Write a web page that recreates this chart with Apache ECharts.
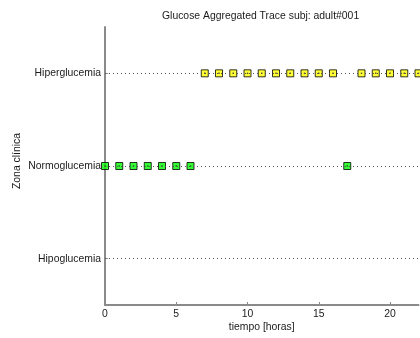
<!DOCTYPE html>
<html>
<head>
<meta charset="utf-8">
<script src="https://cdn.jsdelivr.net/npm/echarts@6/dist/echarts.min.js"></script>
<style>
  html, body { margin: 0; padding: 0; background: #fff; }
  #chart { width: 420px; height: 338px; }
</style>
</head>
<body>
<div id="chart"></div>
<script>
// Clinical zones (y categories, bottom to top)
const zonas = ['Hipoglucemia', 'Normoglucemia', 'Hiperglucemia'];
// Hourly samples
const horas = [0, 1, 2, 3, 4, 5, 6, 7, 8, 9, 10, 11, 12, 13, 14, 15, 16, 17, 18, 19, 20, 21, 22];
// Zone index (1 = hipo, 2 = normo, 3 = hiper) for each hour
const zonaPorHora = [2, 2, 2, 2, 2, 2, 2, 3, 3, 3, 3, 3, 3, 3, 3, 3, 3, 2, 3, 3, 3, 3, 3];
// Tick values
const xTicks = [0, 5, 10, 15, 20];
const yTicks = [1, 2, 3];
const coloresZona = { 1: '#ff0000', 2: '#00ff00', 3: '#ffff00' };

const puntos = horas.map((h, i) => [h, zonaPorHora[i]]);
const textColor = '#1a1a1a';
const axisColor = '#8a8a8a';
const font = 'Liberation Sans, Arial, Helvetica, sans-serif';
const fs = 10.4;

const chart = echarts.init(document.getElementById('chart'), null, { renderer: 'canvas' });
chart.setOption({
  animation: false,
  backgroundColor: '#ffffff',
  title: {
    text: 'Glucose Aggregated Trace subj: adult#001',
    left: 162,
    top: 11,
    padding: 0,
    textStyle: { fontSize: fs, fontWeight: 'normal', color: textColor, fontFamily: font }
  },
  grid: { left: 105, top: 27, width: 313.5, height: 278, containLabel: false, outerBoundsMode: 'none' },
  xAxis: {
    type: 'value',
    min: 0,
    max: 22,
    interval: 5,
    name: 'tiempo [horas]',
    nameLocation: 'middle',
    nameGap: 17,
    nameMoveOverlap: false,
    nameTextStyle: { fontSize: fs, color: textColor, fontFamily: font, verticalAlign: 'top' },
    axisLine: { show: true, lineStyle: { color: axisColor, width: 2 } },
    axisTick: { show: true, inside: true, length: 3, customValues: [5, 10, 15, 20], lineStyle: { color: axisColor } },
    axisLabel: { customValues: xTicks, margin: 4, fontSize: fs, color: textColor, fontFamily: font },
    splitLine: { show: false }
  },
  yAxis: {
    type: 'value',
    min: 0.5,
    max: 3.5,
    name: 'Zona clínica',
    nameLocation: 'middle',
    nameRotate: 90,
    nameGap: 83,
    nameMoveOverlap: false,
    nameTextStyle: { fontSize: fs, color: textColor, fontFamily: font, padding: [0, 0, 0, 10] },
    axisLine: { show: true, lineStyle: { color: axisColor, width: 2 } },
    axisTick: { show: true, inside: true, length: 3, customValues: yTicks, lineStyle: { color: axisColor } },
    axisLabel: {
      customValues: yTicks,
      margin: 4,
      fontSize: fs,
      color: textColor,
      fontFamily: font,
      formatter: v => zonas[Math.round(v) - 1]
    },
    splitLine: { show: false }
  },
  series: [
    {
      // dotted grid lines at each zone level
      type: 'scatter',
      data: [],
      silent: true,
      markLine: {
        silent: true,
        symbol: 'none',
        label: { show: false },
        animation: false,
        lineStyle: { type: [1, 3], color: '#555', width: 1 },
        data: yTicks.map(v => ({ yAxis: v }))
      }
    },
    {
      type: 'scatter',
      data: puntos,
      clip: false,
      symbol: 'rect',
      symbolSize: 7,
      itemStyle: {
        color: p => coloresZona[p.value[1]],
        borderColor: '#000',
        borderWidth: 1
      },
      z: 3
    },
    {
      // center dots inside the markers
      type: 'scatter',
      data: puntos,
      clip: false,
      symbol: 'rect',
      symbolSize: 1.5,
      itemStyle: { color: '#333' },
      z: 4
    }
  ]
});
</script>
</body>
</html>
